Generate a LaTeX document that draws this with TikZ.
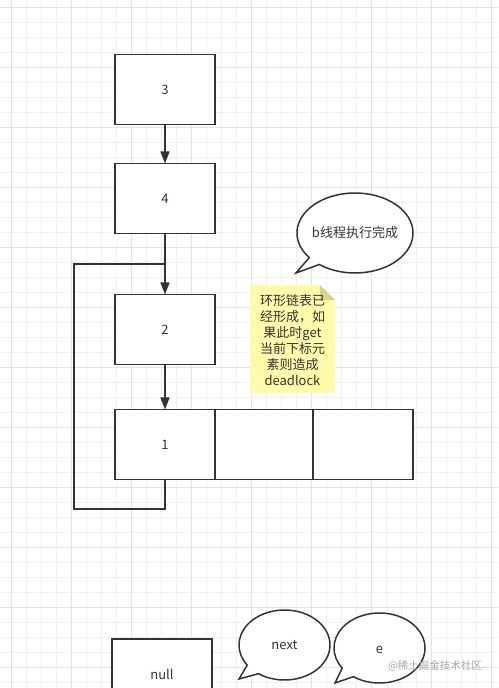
\documentclass[tikz,border=0pt]{standalone}
\usepackage{fontspec}
\setmainfont{Noto Sans CJK SC}
\usetikzlibrary{positioning,arrows.meta,calc}
\definecolor{inkgray}{RGB}{51,51,51}
\definecolor{notefill}{RGB}{255,251,170}
\definecolor{notefold}{RGB}{214,214,138}
\definecolor{gridminor}{RGB}{240,240,240}
\definecolor{gridmajor}{RGB}{226,226,226}

\tikzset{
  cell/.style={draw=inkgray, line width=1.5pt, fill=white, minimum width=100pt,
    minimum height=70pt, inner sep=0pt, outer sep=0pt},
  link/.style={draw=inkgray, line width=1.5pt, -{Triangle[length=12pt,width=9pt]}},
  wire/.style={draw=inkgray, line width=1.5pt},
  bubble/.style={draw=inkgray, line width=1.5pt, fill=white}
}

\begin{document}
\begin{tikzpicture}[x=1pt, y=1pt, font=\fontsize{13}{16}\selectfont, text=inkgray]
  \useasboundingbox (0,0) rectangle (498,688);
  \fill[white] (0,0) rectangle (498,688);

  % background grid
  \foreach \i in {0,...,32} {
    \pgfmathtruncatemacro\m{mod(\i,4)}
    \ifnum\m=0 \def\gc{gridmajor}\else \def\gc{gridminor}\fi
    \draw[\gc, line width=0.8pt] (11+15*\i,0) -- (11+15*\i,688);
  }
  \foreach \k in {0,...,45} {
    \pgfmathtruncatemacro\m{mod(\k,4)}
    \ifnum\m=1 \def\gc{gridmajor}\else \def\gc{gridminor}\fi
    \draw[\gc, line width=0.8pt] (0,6+15*\k) -- (498,6+15*\k);
  }

  % the linked list
  \node[cell] (n3) at (165,598.5) {3};
  \node[cell, below=39pt of n3] (n4) {4};
  \node[cell, below=61pt of n4] (n2) {2};
  \node[cell, below=45pt of n2] (n1) {1};
  \node[cell, minimum width=98pt, right=0pt of n1] (r1) {};
  \node[cell, right=0pt of r1] (r2) {};

  \draw[link] (n3) -- (n4);
  \draw[link] (n2) -- (n1);

  % cycle back from 1 to 2
  \coordinate (loopbl) at (74,179);
  \coordinate (looptl) at (74,424);
  \draw[wire] (n1.south) -- (n1.south |- loopbl) -- (loopbl) -- (looptl)
    -- (looptl -| n4.south);
  \draw[link] (n4) -- (n2);

  % speech bubble
  \draw[bubble] (355,455) ++(232:58 and 40)
    arc[start angle=232, end angle=578, x radius=58, y radius=40]
    -- (296,415) -- cycle;
  \node (done) at (355,455) {b线程执行完成};

  % yellow note
  \fill[notefill] (250,295) -- (250,403) -- (320,403) -- (335,388) -- (335,295) -- cycle;
  \fill[notefold] (320,403) -- (335,388) -- (320,388) -- cycle;
  \node[align=center] (note) at (292.5,347.5)
    {环形链表已\\经形成，如\\果此时get\\当前下标元\\素则造成\\deadlock};

  % bottom row
  \node[cell] (nil) at (162,14) {null};
  \draw[bubble] (284.5,43) ++(235:45.5 and 35)
    arc[start angle=235, end angle=575, x radius=45.5, y radius=35]
    -- (239,9) -- cycle;
  \node (nxt) at (284.5,43) {next};
  \draw[bubble] (379.5,40) ++(235:45.5 and 35)
    arc[start angle=235, end angle=575, x radius=45.5, y radius=35]
    -- (335,5) -- cycle;
  \node (elem) at (379.5,38) {e};

  \node[text=gray!70, font=\fontsize{10.5}{12}\selectfont] (mark) at (435,22) {@稀土掘金技术社区};
\end{tikzpicture}
\end{document}
